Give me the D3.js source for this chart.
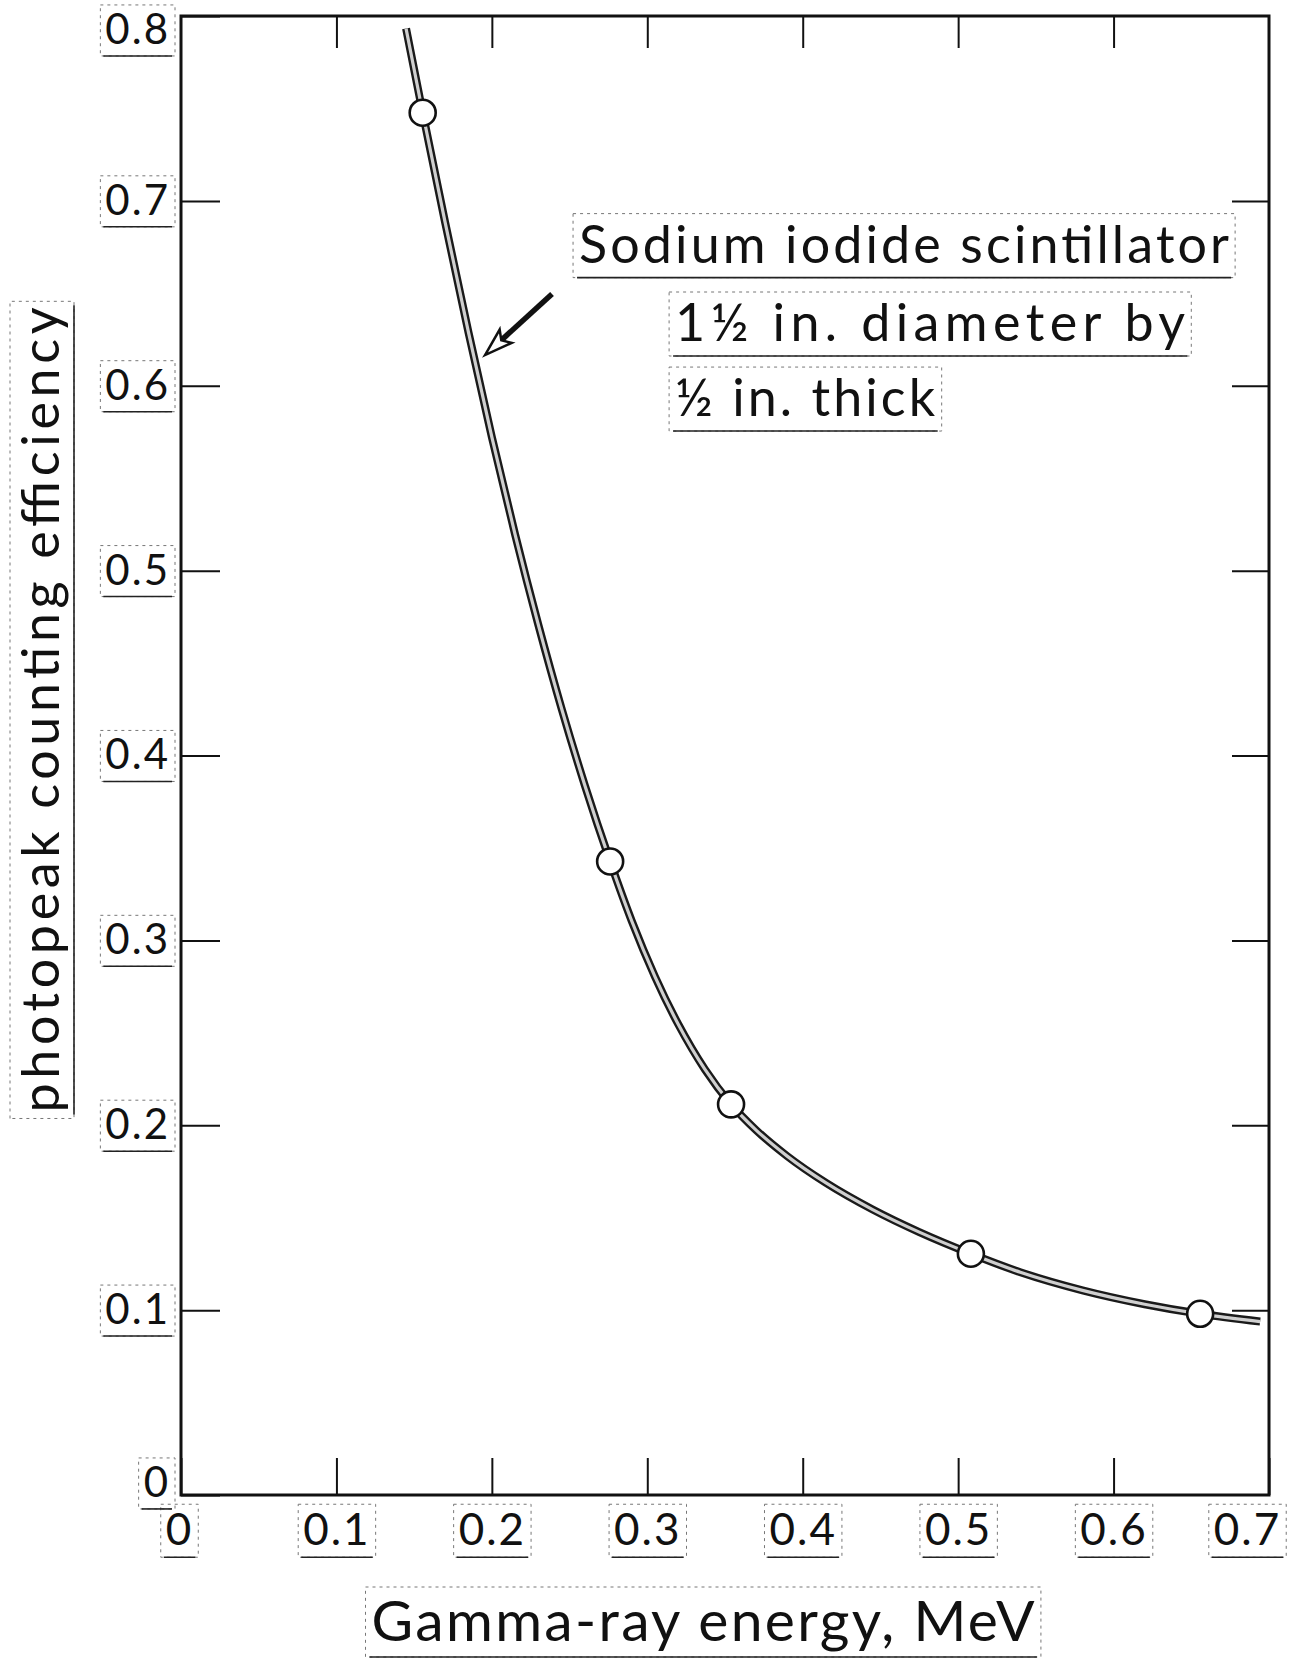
<!DOCTYPE html>
<html>
<head>
<meta charset="utf-8">
<script src="https://cdn.jsdelivr.net/npm/d3@7"></script>
<style>
  body { margin: 0; background: #fff; }
  svg { display: block; }
  text { font-family: Lato, "Noto Sans", sans-serif; fill: #111; }
</style>
</head>
<body>
<div id="chart"></div>
<script>
// axis ticks
const xTicks = [0, 0.1, 0.2, 0.3, 0.4, 0.5, 0.6, 0.7];
const xTickLabels = ["0", "0.1", "0.2", "0.3", "0.4", "0.5", "0.6", "0.7"];
const yTicks = [0, 0.1, 0.2, 0.3, 0.4, 0.5, 0.6, 0.7, 0.8];
const yTickLabels = ["0", "0.1", "0.2", "0.3", "0.4", "0.5", "0.6", "0.7", "0.8"];

// smooth curve
const curveEnergy = [0.1448, 0.1555, 0.1700, 0.1850, 0.2000, 0.2150, 0.2300, 0.2450, 0.2600, 0.2761,
  0.2900, 0.3050, 0.3200, 0.3370, 0.3539, 0.3700, 0.3900, 0.4150, 0.4450, 0.4750,
  0.5082, 0.5400, 0.5800, 0.6200, 0.6557, 0.6943];
const curveEfficiency = [0.7932, 0.7477, 0.6881, 0.6287, 0.5722, 0.5194, 0.4704, 0.4250, 0.3834, 0.3427,
  0.3105, 0.2803, 0.2545, 0.2303, 0.2113, 0.1974, 0.1833, 0.1688, 0.1544, 0.1422,
  0.1305, 0.1205, 0.1107, 0.1032, 0.0980, 0.0938];

// measured points (circles)
const pointEnergy = [0.1555, 0.2761, 0.3539, 0.5082, 0.6557];
const pointEfficiency = [0.7477, 0.3427, 0.2113, 0.1305, 0.0980];

// annotation
const noteLines = ["Sodium iodide scintillator", "1\u00BD in. diameter by", "\u00BD in. thick"];
const noteEnergy = [0.2561, 0.3179, 0.3179];
const noteEfficiency = [0.6666, 0.6242, 0.5836];
const noteWidths = [650, 510, 260];
const arrowEnergy = [0.2387, 0.1956];
const arrowEfficiency = [0.6496, 0.6166];

const xTitle = "Gamma-ray energy, MeV";
const yTitle = "photopeak counting efficiency";

const W = 1293, H = 1661;
const margin = { top: 16, right: 24, bottom: 166, left: 181 };
const width = W - margin.left - margin.right;
const height = H - margin.top - margin.bottom;

const svg = d3.select("#chart")
  .append("svg")
  .attr("width", W)
  .attr("height", H)
  .style("background-color", "#fff");

const g = svg.append("g")
  .attr("transform", `translate(${margin.left},${margin.top})`);

const x = d3.scaleLinear().domain([0, 0.7]).range([0, width]);
const y = d3.scaleLinear().domain([0, 0.8]).range([height, 0]);

// dashed paste-up boxes with a solid underline
function boxIt(sel, pad) {
  sel.each(function () {
    const b = this.getBBox();
    const parent = d3.select(this.parentNode);
    const tr = d3.select(this).attr("transform");
    const top = Math.max(b.y - pad + 4, b.y + 2);
    parent.insert("rect", () => this)
      .attr("transform", tr)
      .attr("x", b.x - pad)
      .attr("y", top)
      .attr("width", b.width + 2 * pad)
      .attr("height", b.y + b.height + pad - 2 - top)
      .attr("fill", "none")
      .attr("stroke", "#777")
      .attr("stroke-width", 1)
      .attr("stroke-dasharray", "3,4");
    parent.insert("line", () => this)
      .attr("transform", tr)
      .attr("x1", b.x - 2)
      .attr("x2", b.x + b.width + 2)
      .attr("y1", b.y + b.height + pad - 2)
      .attr("y2", b.y + b.height + pad - 2)
      .attr("stroke", "#222")
      .attr("stroke-width", 1.6);
  });
}

// bottom axis
const gx = g.append("g")
  .attr("transform", `translate(0,${height})`)
  .call(d3.axisBottom(x)
    .tickValues(xTicks)
    .tickFormat((d) => xTickLabels[xTicks.indexOf(d)])
    .tickSize(-37)
    .tickSizeOuter(0)
    .tickPadding(19));
gx.select(".domain").remove();
gx.selectAll("line").attr("stroke", "#111").attr("stroke-width", 2);
gx.selectAll("text")
  .style("font-size", "44px")
  .attr("letter-spacing", 2)
  .attr("fill", "#111")
  .attr("dx", (d) => (d === 0.7 ? -22 : d === 0 ? -2 : 0));

// left axis
const gy = g.append("g")
  .call(d3.axisLeft(y)
    .tickValues(yTicks)
    .tickFormat((d) => yTickLabels[yTicks.indexOf(d)])
    .tickSize(-39)
    .tickSizeOuter(0)
    .tickPadding(11));
gy.select(".domain").remove();
gy.selectAll("line").attr("stroke", "#111").attr("stroke-width", 2);
gy.selectAll("text")
  .style("font-size", "42px")
  .attr("letter-spacing", 2)
  .attr("fill", "#111")
  .attr("y", (d) => (d === 0.8 ? 14 : d === 0 ? -12 : 0));

// top and right inner ticks
const gt = g.append("g")
  .call(d3.axisTop(x).tickValues(xTicks.slice(1, -1)).tickSize(-32).tickFormat(""));
gt.select(".domain").remove();
gt.selectAll("line").attr("stroke", "#111").attr("stroke-width", 2);

const gr = g.append("g")
  .attr("transform", `translate(${width},0)`)
  .call(d3.axisRight(y).tickValues(yTicks.slice(1, -1)).tickSize(-37).tickFormat(""));
gr.select(".domain").remove();
gr.selectAll("line").attr("stroke", "#111").attr("stroke-width", 2);

// frame
g.append("rect")
  .attr("width", width)
  .attr("height", height)
  .attr("fill", "none")
  .attr("stroke", "#111")
  .attr("stroke-width", 3);

// curve: dark outline with light core, like the inked original
const line = d3.line()
  .x((d) => x(d[0]))
  .y((d) => y(d[1]))
  .curve(d3.curveMonotoneX);
const curveData = d3.zip(curveEnergy, curveEfficiency);

g.append("path")
  .datum(curveData)
  .attr("d", line)
  .attr("fill", "none")
  .attr("stroke", "#1a1a1a")
  .attr("stroke-width", 8)
  .attr("stroke-linecap", "butt");
g.append("path")
  .datum(curveData)
  .attr("d", line)
  .attr("fill", "none")
  .attr("stroke", "#cfcfcf")
  .attr("stroke-width", 3.2);

g.selectAll(".pt")
  .data(d3.zip(pointEnergy, pointEfficiency))
  .enter()
  .append("circle")
  .attr("class", "pt")
  .attr("cx", (d) => x(d[0]))
  .attr("cy", (d) => y(d[1]))
  .attr("r", 13)
  .attr("fill", "#fff")
  .attr("stroke", "#111")
  .attr("stroke-width", 2.6);

// arrow pointing at the curve
const ax0 = x(arrowEnergy[0]), ay0 = y(arrowEfficiency[0]);
const ax1 = x(arrowEnergy[1]), ay1 = y(arrowEfficiency[1]);
const ang = Math.atan2(ay1 - ay0, ax1 - ax0);
const headLen = 28, headW = 9;
const bx = ax1 - headLen * Math.cos(ang), by = ay1 - headLen * Math.sin(ang);
g.append("line")
  .attr("x1", ax0).attr("y1", ay0)
  .attr("x2", bx + 8 * Math.cos(ang)).attr("y2", by + 8 * Math.sin(ang))
  .attr("stroke", "#111")
  .attr("stroke-width", 5.5);
g.append("path")
  .attr("d", `M${ax1},${ay1}L${bx - headW * Math.sin(ang)},${by + headW * Math.cos(ang)}` +
    `L${bx + 6 * Math.cos(ang)},${by + 6 * Math.sin(ang)}L${bx + headW * Math.sin(ang)},${by - headW * Math.cos(ang)}Z`)
  .attr("fill", "#fff")
  .attr("stroke", "#111")
  .attr("stroke-width", 2.5)
  .attr("stroke-linejoin", "miter");

// annotation text
const notes = g.selectAll(".note")
  .data(noteLines)
  .enter()
  .append("text")
  .attr("class", "note")
  .attr("x", (d, i) => x(noteEnergy[i]))
  .attr("y", (d, i) => y(noteEfficiency[i]))
  .attr("textLength", (d, i) => noteWidths[i])
  .attr("lengthAdjust", "spacing")
  .style("font-size", "52px")
  .text((d) => d);

// axis titles
const xt = svg.append("text")
  .attr("x", margin.left + x(0.35) - 22)
  .attr("y", 1641)
  .attr("text-anchor", "middle")
  .attr("textLength", 663)
  .attr("lengthAdjust", "spacing")
  .style("font-size", "57px")
  .text(xTitle);

const yt = svg.append("text")
  .attr("transform", "translate(59,710) rotate(-90)")
  .attr("text-anchor", "middle")
  .attr("textLength", 805)
  .attr("lengthAdjust", "spacing")
  .style("font-size", "52px")
  .text(yTitle);

boxIt(gx.selectAll("text"), 5);
boxIt(gy.selectAll("text"), 5);
boxIt(notes, 6);
boxIt(xt, 6);
boxIt(yt, 6);
</script>
</body>
</html>
